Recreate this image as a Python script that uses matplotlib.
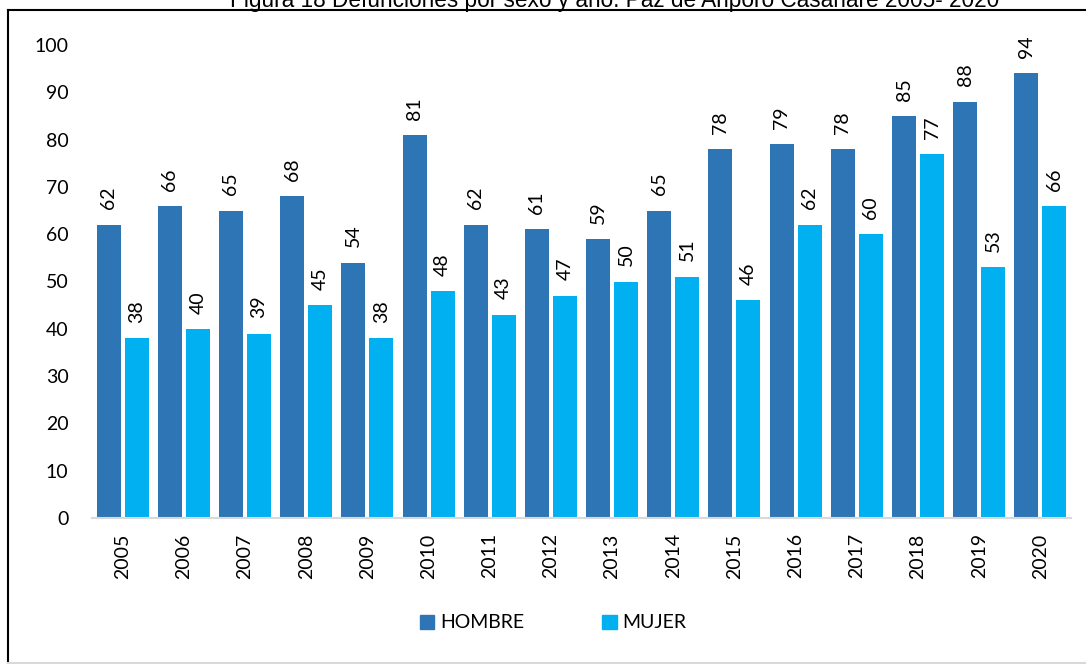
import matplotlib
matplotlib.use("Agg")
import matplotlib.pyplot as plt
import numpy as np
from matplotlib.lines import Line2D

years = ["2005", "2006", "2007", "2008", "2009", "2010", "2011", "2012",
         "2013", "2014", "2015", "2016", "2017", "2018", "2019", "2020"]
hombre = [62, 66, 65, 68, 54, 81, 62, 61, 59, 65, 78, 79, 78, 85, 88, 94]
mujer = [38, 40, 39, 45, 38, 48, 43, 47, 50, 51, 46, 62, 60, 77, 53, 66]
title = "Figura 18 Defunciones por sexo y año. Paz de Ariporo Casanare 2005- 2020"

c_h = "#2E75B6"
c_m = "#00B0F0"
font = "Lato"
fs = 14

W, H = 1086, 664
fig = plt.figure(figsize=(W / 100, H / 100), dpi=100)
ax = fig.add_axes([92 / W, 1 - 518 / H, (1071 - 92) / W, (518 - 45) / H])

x = np.arange(len(years))
bw = 0.392
off = 0.229
b1 = ax.bar(x - off, hombre, bw, color=c_h, label="HOMBRE")
b2 = ax.bar(x + off, mujer, bw, color=c_m, label="MUJER")

for bars, vals in ((b1, hombre), (b2, mujer)):
    for r, v in zip(bars, vals):
        ax.annotate(str(v), (r.get_x() + r.get_width() / 2, v),
                    xytext=(0, 11), textcoords="offset points",
                    rotation=90, ha="center", va="bottom",
                    fontsize=fs, family=font, color="#000000",
                    annotation_clip=False)

ax.set_xlim(-0.5, len(years) - 0.5)
ax.set_ylim(0, 100)
ax.set_yticks(range(0, 101, 10))
ax.set_xticks(x)
ax.set_xticklabels(years, rotation=90, fontsize=fs, family=font)
for lab in ax.get_yticklabels():
    lab.set_fontsize(fs)
    lab.set_family(font)
ax.tick_params(axis="both", length=0)
ax.tick_params(axis="y", pad=17)
ax.tick_params(axis="x", pad=11)
for s in ("top", "right", "left"):
    ax.spines[s].set_visible(False)
ax.spines["bottom"].set_color("#D9D9D9")
ax.spines["bottom"].set_linewidth(1.5)
ax.set_facecolor("none")

handles = [plt.Rectangle((0, 0), 1, 1, color=c_h), plt.Rectangle((0, 0), 1, 1, color=c_m)]
fig.legend(handles, ["HOMBRE", "MUJER"], loc="center", bbox_to_anchor=(553 / W, 1 - 623 / H),
           ncol=2, frameon=False, columnspacing=4.0, handlelength=0.75, handleheight=0.75,
           handletextpad=0.3, prop={"family": font, "size": fs})

# figure frame
fig.add_artist(Line2D([8 / W, 8 / W], [0, 1 - 10 / H], transform=fig.transFigure, color="black", lw=1.5))
fig.add_artist(Line2D([8 / W, 1], [1 - 10 / H, 1 - 10 / H], transform=fig.transFigure, color="black", lw=1.5))
fig.add_artist(Line2D([8 / W, 1], [1 / H, 1 / H], transform=fig.transFigure, color="#D9D9D9", lw=1.5))

fig.text(615 / W, 1 - 7 / H, title, ha="center", va="baseline", fontsize=16.3,
         family="Liberation Sans", color="black")

fig.savefig("out.png", dpi=100)
